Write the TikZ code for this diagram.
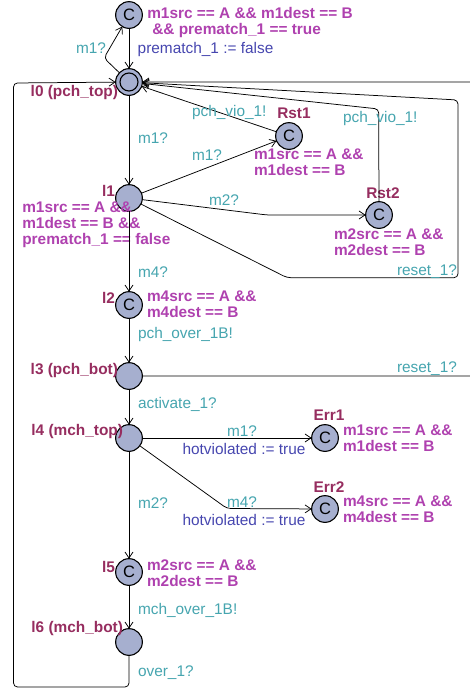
\documentclass[tikz,border=0pt]{standalone}
\usepackage{fontspec}
\setmainfont{Liberation Sans}
\usetikzlibrary{arrows.meta}

\definecolor{locfill}{RGB}{166,175,207}
\definecolor{namecol}{RGB}{150,45,95}
\definecolor{guardcol}{RGB}{175,65,175}
\definecolor{synccol}{RGB}{70,165,175}
\definecolor{updcol}{RGB}{70,70,175}

\newcommand{\txtfont}{\fontsize{15.4}{15.8}\selectfont}

\begin{document}
\begin{tikzpicture}[x=1pt,y=-1pt,
  every node/.style={font=\txtfont, inner sep=0pt, outer sep=0pt},
  loc/.style={circle, draw, line width=1.1pt, fill=locfill, minimum size=26.7pt},
  committed/.style={loc, font=\fontsize{16.5}{16.5}\selectfont},
  lname/.style={text=namecol, font=\txtfont\bfseries},
  guard/.style={text=guardcol, font=\txtfont\bfseries, align=left, anchor=north west},
  sync/.style={text=synccol},
  upd/.style={text=updcol},
  edge/.style={draw, line width=0.75pt, rounded corners=4pt,
    -{Straight Barb[length=6pt,width=8pt]}},
]
\useasboundingbox (0,0) rectangle (470,689);
\clip (0,0) rectangle (470,689);

% locations
\node[committed] (c0)   at (129,15)  {C};
\node[loc]       (l0)   at (129,82)  {};
\draw[line width=1.1pt] (l0.center) circle (9pt);
\node[committed] (rst1) at (289,136) {C};
\node[loc]       (l1)   at (129,198) {};
\node[committed] (rst2) at (379,215) {C};
\node[committed] (l2)   at (129,305) {C};
\node[loc]       (l3)   at (129,376) {};
\node[loc]       (l4)   at (129,438) {};
\node[committed] (err1) at (325,438) {C};
\node[committed] (err2) at (325,509) {C};
\node[committed] (l5)   at (129,572) {C};
\node[loc]       (l6)   at (129,642) {};

% location names
\node[lname, anchor=base east] (n0) at (118,96.5) {l0 (pch\_top)};
\node[lname, anchor=base east] (n1) at (115,196) {l1};
\node[lname, anchor=base east] (n2) at (115,303) {l2};
\node[lname, anchor=base east] (n3) at (118,374) {l3 (pch\_bot)};
\node[lname, anchor=base east] (n4) at (123,435) {l4 (mch\_top)};
\node[lname, anchor=base east] (n5) at (115,572) {l5};
\node[lname, anchor=base east] (n6) at (123,632) {l6 (mch\_bot)};
\node[lname, anchor=base] (nr1) at (294,118) {Rst1};
\node[lname, anchor=base] (nr2) at (383,198) {Rst2};
\node[lname, anchor=base] (ne1) at (329,420) {Err1};
\node[lname, anchor=base] (ne2) at (329,492) {Err2};

% invariants / guards
\node[guard] (g0) at (147.3,7.8) {m1src == A \&\& m1dest == B\\\hspace*{5pt}\&\& prematch\_1 == true};
\node[guard] (gr1) at (254,148.8) {m1src == A \&\&\\m1dest == B};
\node[guard] (gr2) at (334,228.8) {m2src == A \&\&\\m2dest == B};
\node[guard] (g1) at (22.3,202) {m1src == A \&\&\\m1dest == B \&\&\\prematch\_1 == false};
\node[guard] (g2) at (147,291) {m4src == A \&\&\\m4dest == B};
\node[guard] (ge1) at (343,425) {m1src == A \&\&\\m1dest == B};
\node[guard] (ge2) at (343,496) {m4src == A \&\&\\m4dest == B};
\node[guard] (g5) at (147,560) {m2src == A \&\&\\m2dest == B};

% bend points
\coordinate (v0)  at (104,58);
\coordinate (v1)  at (267,215);
\coordinate (v2)  at (378.7,109);
\coordinate (v3a) at (287,277.7);
\coordinate (v3b) at (458,277.7);
\coordinate (v3c) at (458,100);
\coordinate (v4a) at (480,376);
\coordinate (v4b) at (480,82);
\coordinate (v5)  at (227,508.5);
\coordinate (v6a) at (129,687);
\coordinate (v6b) at (13.5,687);
\coordinate (v6c) at (13.5,83);

% transitions
\draw[edge] (c0) -- (l0);
\draw[edge] (l0) -- (v0) -- (c0);
\draw[edge] (l0) -- (l1);
\draw[edge] (l1) -- (rst1);
\draw[edge] (rst1) -- (l0);
\draw[edge] (l1) -- (v1) -- (rst2);
\draw[edge] (rst2) -- (v2) -- (l0);
\draw[edge] (l1) -- (v3a) -- (v3b) -- (v3c) -- (l0);
\draw[edge] (l1) -- (l2);
\draw[edge] (l2) -- (l3);
\draw[edge] (l3) -- (v4a) -- (v4b) -- (l0);
\draw[edge] (l3) -- (l4);
\draw[edge] (l4) -- (err1);
\draw[edge] (l4) -- (v5) -- (err2);
\draw[edge] (l4) -- (l5);
\draw[edge] (l5) -- (l6);
\draw[edge] (l6) -- (v6a) -- (v6b) -- (v6c) -- (l0);

% synchronisations and updates
\node[upd, anchor=base west]  (u0)  at (137.7,53) {prematch\_1 := false};
\node[sync, anchor=base west] (s0)  at (76,53)    {m1?};
\node[sync, anchor=base west] (s1)  at (138,143)  {m1?};
\node[sync, anchor=base west] (s2)  at (192,160)  {m1?};
\node[sync, anchor=base west] (s3)  at (192,116)  {pch\_vio\_1!};
\node[sync, anchor=base west] (s4)  at (343,122)  {pch\_vio\_1!};
\node[sync, anchor=base west] (s5)  at (209,205)  {m2?};
\node[sync, anchor=base west] (s6)  at (397,275)  {reset\_1?};
\node[sync, anchor=base west] (s7)  at (138,277)  {m4?};
\node[sync, anchor=base west] (s8)  at (138,338)  {pch\_over\_1B!};
\node[sync, anchor=base west] (s9)  at (397,372)  {reset\_1?};
\node[sync, anchor=base west] (s10) at (138,408)  {activate\_1?};
\node[sync, anchor=base]      (s11) at (242,436)  {m1?};
\node[upd,  anchor=base]      (u1)  at (244,454)  {hotviolated := true};
\node[sync, anchor=base]      (s12) at (242,507)  {m4?};
\node[upd,  anchor=base]      (u2)  at (244,525)  {hotviolated := true};
\node[sync, anchor=base west] (s13) at (138,508)  {m2?};
\node[sync, anchor=base west] (s14) at (138,614)  {mch\_over\_1B!};
\node[sync, anchor=base west] (s15) at (138,676)  {over\_1?};
\end{tikzpicture}
\end{document}
